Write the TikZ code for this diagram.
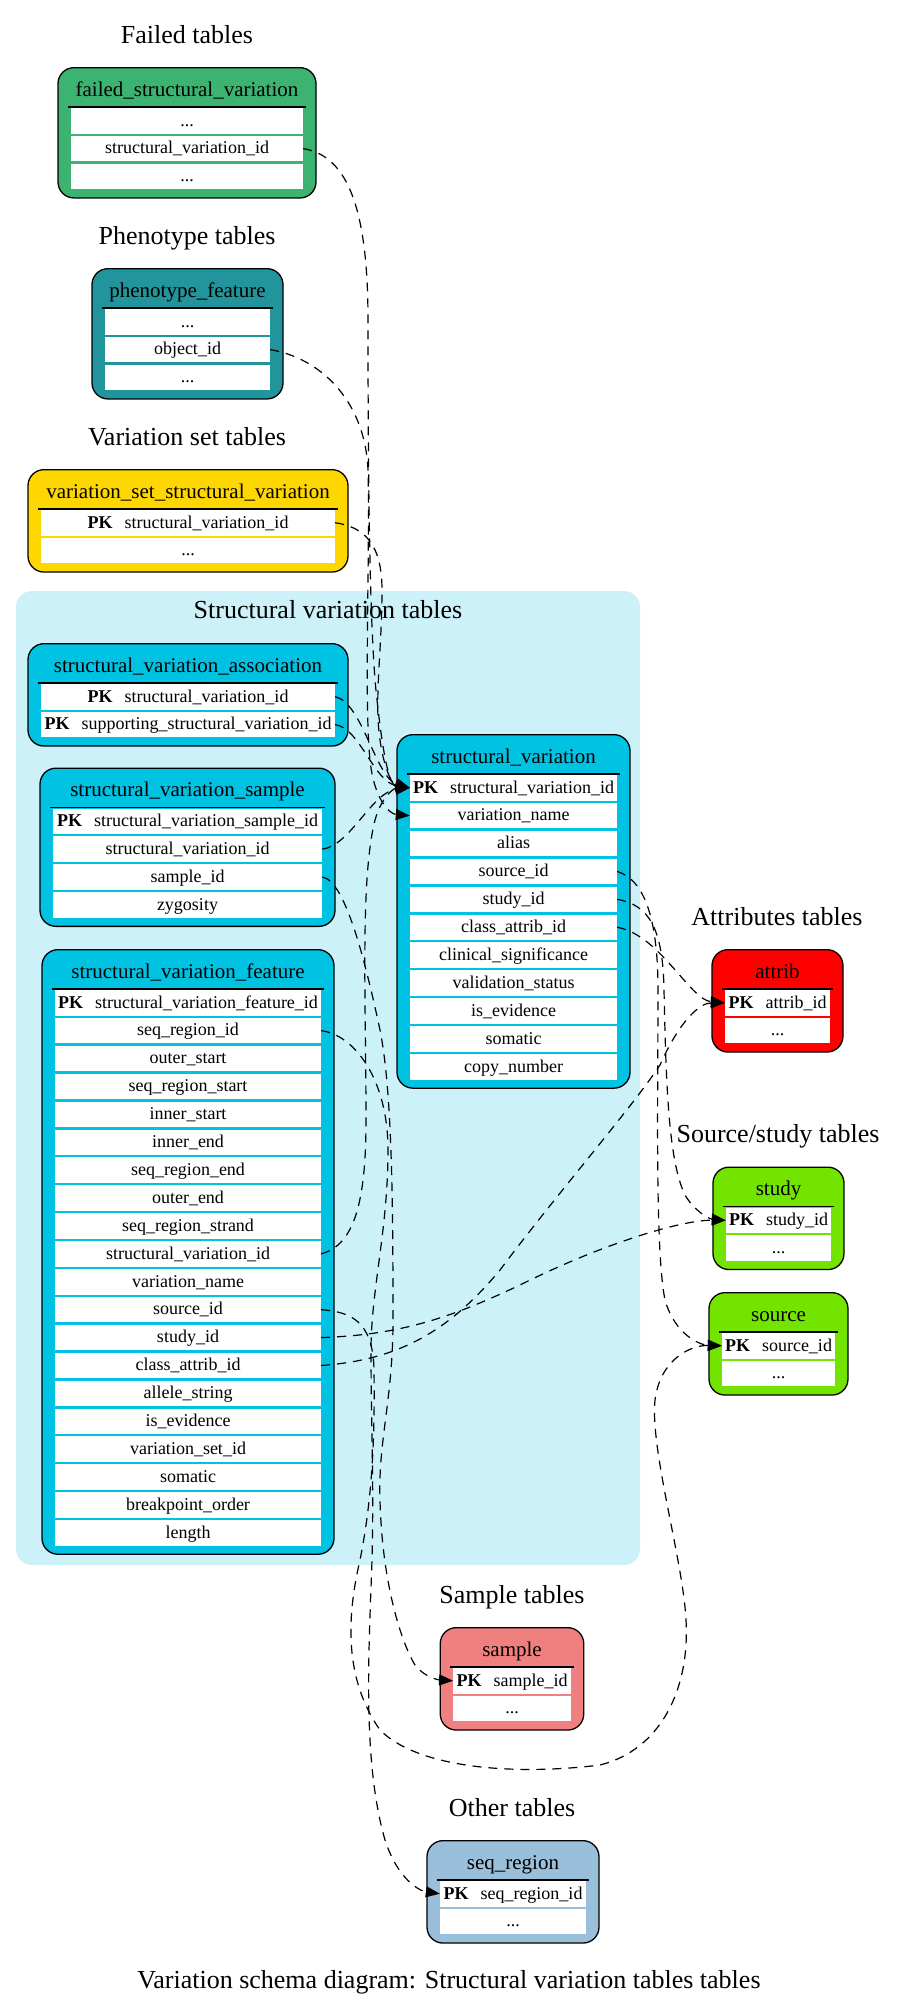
\documentclass[tikz,border=0pt]{standalone}
\usepackage{fontspec}
\setmainfont{Liberation Serif}
\usetikzlibrary{arrows.meta}
\definecolor{cfailed}{RGB}{60,179,113}
\definecolor{cpheno}{RGB}{34,148,155}
\definecolor{cvset}{RGB}{255,215,0}
\definecolor{csv}{RGB}{0,194,227}
\definecolor{cclus}{RGB}{204,241,249}
\definecolor{cattrib}{RGB}{255,0,0}
\definecolor{csrc}{RGB}{114,228,0}
\definecolor{csample}{RGB}{240,128,128}
\definecolor{cseq}{RGB}{154,191,218}
\newcommand{\pkf}[1]{\textbf{PK}\hspace{12pt}#1}
\newcommand{\dbtable}[7]{%
  \def\tcx{#2}\def\tT{#3}\def\tw{#4}%
  \node[tablebox, fill=#5, minimum width={#4+26}, minimum height={74.5+(#7-1)*27.9}] (#1) at (#2,#3) {};
  \node[headtext] (#1-head) at (#2,{#3+29}) {#6};
  \draw[headrule] ({#2-#4/2-3},{#3+40}) -- ({#2+#4/2+3},{#3+40});
}
\newcommand{\dbrow}[3]{%
  \node[cell, minimum width=\tw] (#1-#2) at (\tcx,{\tT+53.75+(#2-1)*27.9}) {#3};
}
\begin{document}
\begin{tikzpicture}[x=1pt,y=-1pt,
  tablebox/.style={draw=black, line width=1.3pt, rounded corners=16pt, inner sep=0pt, anchor=north},
  headtext/.style={font=\fontsize{21}{24}\selectfont, anchor=base, inner sep=0pt},
  cell/.style={fill=white, inner sep=0pt, minimum height=25.5pt, text height=14pt, text depth=3.5pt, font=\fontsize{18}{21}\selectfont},
  headrule/.style={line width=1.6pt},
  grouptitle/.style={font=\fontsize{26}{30}\selectfont, anchor=base, inner sep=0pt},
  cluster/.style={fill=cclus, rounded corners=16pt, inner sep=0pt},
  fk/.style={draw=black, line width=1.2pt, dash pattern=on 9pt off 7pt, -{Triangle[length=14pt,width=11pt]}},
  ]
\useasboundingbox (0,0) rectangle (897,2008);

% titles
\node[grouptitle] (t-failed) at (187,43) {Failed tables};
\node[grouptitle] (t-pheno) at (187,244) {Phenotype tables};
\node[grouptitle] (t-vset) at (187,445) {Variation set tables};
\node[grouptitle] (t-attr) at (777,925) {Attributes tables};
\node[grouptitle] (t-src) at (778,1142) {Source/study tables};
\node[grouptitle] (t-sample) at (512,1603) {Sample tables};
\node[grouptitle] (t-other) at (512,1816) {Other tables};
\node[grouptitle] (caption) at (449,1988) {Variation schema diagram: Structural variation tables tables};

% cluster
\node[cluster, minimum width=624pt, minimum height=974pt] (svclus) at (328,1078) {};
\node[grouptitle] (t-sv) at (328,618) {Structural variation tables};

% tables
\dbtable{fsv}{187}{67}{232}{cfailed}{failed\_structural\_variation}{3}
\dbrow{fsv}{1}{...}
\dbrow{fsv}{2}{structural\_variation\_id}
\dbrow{fsv}{3}{...}

\dbtable{pf}{187.5}{268}{165}{cpheno}{phenotype\_feature}{3}
\dbrow{pf}{1}{...}
\dbrow{pf}{2}{object\_id}
\dbrow{pf}{3}{...}

\dbtable{vssv}{188}{469}{294}{cvset}{variation\_set\_structural\_variation}{2}
\dbrow{vssv}{1}{\pkf{structural\_variation\_id}}
\dbrow{vssv}{2}{...}

\dbtable{sva}{188}{643}{294}{csv}{structural\_variation\_association}{2}
\dbrow{sva}{1}{\pkf{structural\_variation\_id}}
\dbrow{sva}{2}{\pkf{supporting\_structural\_variation\_id}}

\dbtable{svs}{187.5}{767.5}{269}{csv}{structural\_variation\_sample}{4}
\dbrow{svs}{1}{\pkf{structural\_variation\_sample\_id}}
\dbrow{svs}{2}{structural\_variation\_id}
\dbrow{svs}{3}{sample\_id}
\dbrow{svs}{4}{zygosity}

\dbtable{svf}{188}{949}{266}{csv}{structural\_variation\_feature}{20}
\dbrow{svf}{1}{\pkf{structural\_variation\_feature\_id}}
\dbrow{svf}{2}{seq\_region\_id}
\dbrow{svf}{3}{outer\_start}
\dbrow{svf}{4}{seq\_region\_start}
\dbrow{svf}{5}{inner\_start}
\dbrow{svf}{6}{inner\_end}
\dbrow{svf}{7}{seq\_region\_end}
\dbrow{svf}{8}{outer\_end}
\dbrow{svf}{9}{seq\_region\_strand}
\dbrow{svf}{10}{structural\_variation\_id}
\dbrow{svf}{11}{variation\_name}
\dbrow{svf}{12}{source\_id}
\dbrow{svf}{13}{study\_id}
\dbrow{svf}{14}{class\_attrib\_id}
\dbrow{svf}{15}{allele\_string}
\dbrow{svf}{16}{is\_evidence}
\dbrow{svf}{17}{variation\_set\_id}
\dbrow{svf}{18}{somatic}
\dbrow{svf}{19}{breakpoint\_order}
\dbrow{svf}{20}{length}

\dbtable{sv}{513.5}{734}{207}{csv}{structural\_variation}{11}
\dbrow{sv}{1}{\pkf{structural\_variation\_id}}
\dbrow{sv}{2}{variation\_name}
\dbrow{sv}{3}{alias}
\dbrow{sv}{4}{source\_id}
\dbrow{sv}{5}{study\_id}
\dbrow{sv}{6}{class\_attrib\_id}
\dbrow{sv}{7}{clinical\_significance}
\dbrow{sv}{8}{validation\_status}
\dbrow{sv}{9}{is\_evidence}
\dbrow{sv}{10}{somatic}
\dbrow{sv}{11}{copy\_number}

\dbtable{attrib}{777.5}{949}{105}{cattrib}{attrib}{2}
\dbrow{attrib}{1}{\pkf{attrib\_id}}
\dbrow{attrib}{2}{...}

\dbtable{study}{778.5}{1166.5}{105}{csrc}{study}{2}
\dbrow{study}{1}{\pkf{study\_id}}
\dbrow{study}{2}{...}

\dbtable{source}{778.5}{1292}{113}{csrc}{source}{2}
\dbrow{source}{1}{\pkf{source\_id}}
\dbrow{source}{2}{...}

\dbtable{sample}{512}{1627}{117.5}{csample}{sample}{2}
\dbrow{sample}{1}{\pkf{sample\_id}}
\dbrow{sample}{2}{...}

\dbtable{seqr}{513}{1840}{146}{cseq}{seq\_region}{2}
\dbrow{seqr}{1}{\pkf{seq\_region\_id}}
\dbrow{seqr}{2}{...}

% connectors
\draw[fk] (fsv-2.east) .. controls (350,156) and (368,215) .. (368,320)
  .. controls (368,500) and (370,640) .. (377,700)
  .. controls (382,745) and (388,785) .. (sv-1.west);
\draw[fk] (pf-2.east) .. controls (320,358) and (365,400) .. (368,470)
  .. controls (370,560) and (364,700) .. (370,760)
  .. controls (374,800) and (390,814) .. (sv-2.west);
\draw[fk] (vssv-1.east) .. controls (365,527) and (382,545) .. (382,590)
  .. controls (382,650) and (374,700) .. (380,740)
  .. controls (385,775) and (395,787) .. (sv-1.west);
\draw[fk] (sva-1.east) .. controls (362,702) and (376,778) .. (sv-1.west);
\draw[fk] (sva-2.east) .. controls (360,728) and (374,782) .. (sv-1.west);
\draw[fk] (svs-2.east) .. controls (350,846) and (372,792) .. (sv-1.west);
\draw[fk] (svf-10.east) .. controls (355,1245) and (366,1200) .. (366,1120)
  .. controls (366,1000) and (360,880) .. (375,820)
  .. controls (382,795) and (395,788) .. (sv-1.west);
\draw[fk] (svs-3.east) .. controls (345,880) and (365,960) .. (380,1030)
  .. controls (392,1090) and (393,1200) .. (393,1320)
  .. controls (393,1400) and (378,1440) .. (380,1500)
  .. controls (382,1580) and (400,1640) .. (415,1665)
  .. controls (425,1678) and (440,1680) .. (sample-1.west);
\draw[fk] (svf-2.east) .. controls (355,1035) and (388,1080) .. (388,1150)
  .. controls (388,1230) and (371,1290) .. (371,1350)
  .. controls (371,1420) and (374,1480) .. (372,1560)
  .. controls (369,1650) and (362,1760) .. (385,1840)
  .. controls (398,1880) and (420,1891) .. (seqr-1.west);
\draw[fk] (svf-12.east) .. controls (350,1312) and (373,1320) .. (374,1370)
  .. controls (375,1440) and (372,1500) .. (360,1560)
  .. controls (346,1620) and (345,1680) .. (380,1730)
  .. controls (420,1770) and (520,1775) .. (600,1765)
  .. controls (660,1750) and (690,1690) .. (686,1620)
  .. controls (683,1560) and (650,1450) .. (655,1400)
  .. controls (660,1360) and (690,1345) .. (source-1.west);
\draw[fk] (svf-13.east) .. controls (400,1335) and (450,1318) .. (520,1285)
  .. controls (600,1245) and (680,1220) .. (study-1.west);
\draw[fk] (svf-14.east) .. controls (400,1360) and (450,1330) .. (500,1270)
  .. controls (560,1190) and (630,1110) .. (660,1065)
  .. controls (680,1020) and (700,1003) .. (attrib-1.west);
\draw[fk] (sv-4.east) .. controls (645,880) and (658,920) .. (658,990)
  .. controls (658,1100) and (655,1250) .. (665,1300)
  .. controls (675,1335) and (700,1345) .. (source-1.west);
\draw[fk] (sv-5.east) .. controls (650,905) and (663,930) .. (664,990)
  .. controls (666,1080) and (668,1160) .. (685,1195)
  .. controls (695,1212) and (710,1219) .. (study-1.west);
\draw[fk] (sv-6.east) .. controls (660,935) and (690,1000) .. (attrib-1.west);
\end{tikzpicture}
\end{document}
